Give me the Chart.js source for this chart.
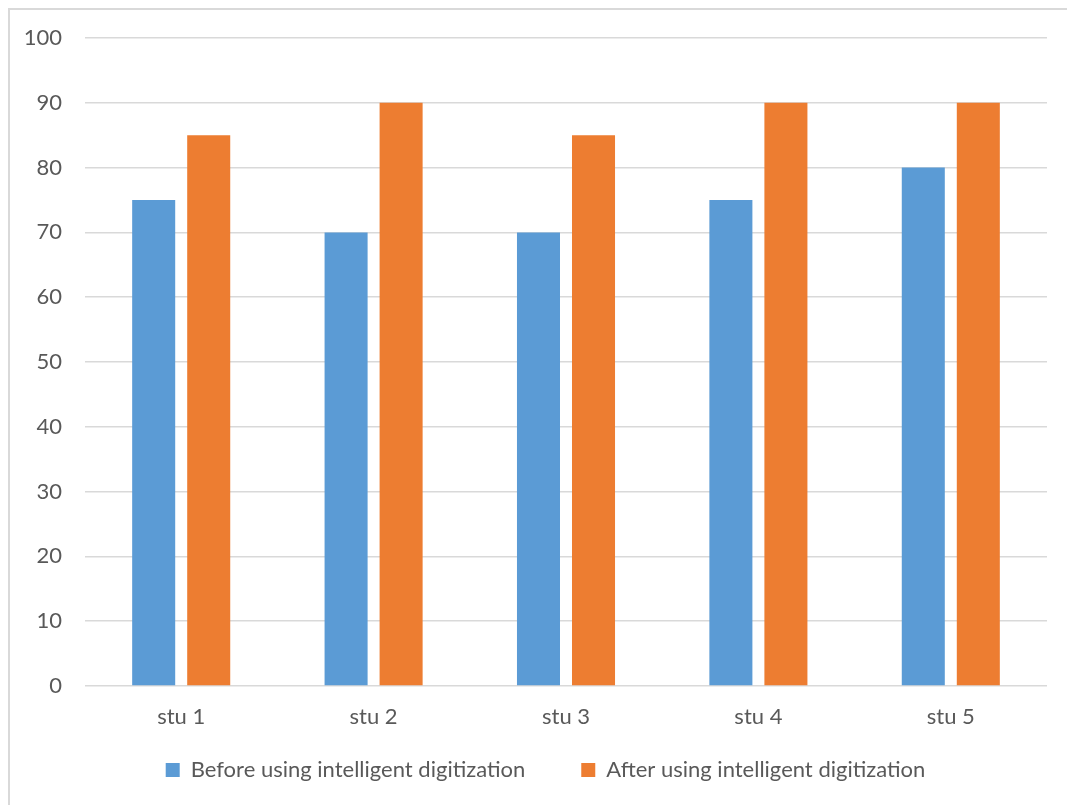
<!DOCTYPE html>
<html>
<head>
<meta charset="utf-8">
<title>Scores before and after intelligent digitization</title>
<script src="https://cdn.jsdelivr.net/npm/chart.js@4/dist/chart.umd.min.js"></script>
<style>
  html, body { margin: 0; padding: 0; background: #ffffff; overflow: hidden; }
  canvas { display: block; }
</style>
</head>
<body>
<canvas id="chart" width="1067" height="805"></canvas>
<script>
// Student categories and their scores
const categories = ['stu 1', 'stu 2', 'stu 3', 'stu 4', 'stu 5'];
const beforeScores = [75, 70, 70, 75, 80];
const afterScores = [85, 90, 85, 90, 90];
const seriesNames = ['Before using intelligent digitization', 'After using intelligent digitization'];
const yTicks = [0, 10, 20, 30, 40, 50, 60, 70, 80, 90, 100];

const FONT_FAMILY = 'Lato, "Open Sans", "Liberation Sans", sans-serif';
const FONT_SIZE = 22;
const TEXT_COLOR = '#595959';
const GRID_COLOR = '#d9d9d9';

// Layout: plot area spans x 85..1047, y 38..686; legend row centred near y 770
const CANVAS_H = 805;
const PLOT_BOTTOM = 686;
const X_AXIS_HEIGHT = 45;
const LEGEND_PAD = 56;
const LEGEND_BOX_H = 60;
const LEGEND_CENTER_Y = 770;
const LEGEND_SHIFT_X = 22;
const padBottom = CANVAS_H - PLOT_BOTTOM - X_AXIS_HEIGHT - LEGEND_BOX_H;

// Thin frame along the top and left edges of the chart
const framePlugin = {
  id: 'frame',
  beforeDraw(chart) {
    const ctx = chart.ctx;
    ctx.save();
    ctx.strokeStyle = GRID_COLOR;
    ctx.lineWidth = 2;
    ctx.beginPath();
    ctx.moveTo(9, chart.height);
    ctx.lineTo(9, 9);
    ctx.lineTo(chart.width, 9);
    ctx.stroke();
    ctx.restore();
  }
};

// Place the legend row: a little right of centre, text centred on LEGEND_CENTER_Y
const legendOffsetPlugin = {
  id: 'legendOffset',
  afterLayout(chart) {
    const lg = chart.legend;
    if (!lg) return;
    lg.left += LEGEND_SHIFT_X;
    lg.right += LEGEND_SHIFT_X;
    lg.top = LEGEND_CENTER_Y - LEGEND_PAD - FONT_SIZE / 2;
    lg.bottom = CANVAS_H;
    lg.height = lg.bottom - lg.top;
  }
};

new Chart(document.getElementById('chart'), {
  type: 'bar',
  data: {
    labels: categories,
    datasets: [
      {
        label: seriesNames[0],
        data: beforeScores,
        backgroundColor: '#5b9bd5',
        borderWidth: 0
      },
      {
        label: seriesNames[1],
        data: afterScores,
        backgroundColor: '#ed7d31',
        borderWidth: 0
      }
    ]
  },
  options: {
    responsive: false,
    animation: false,
    devicePixelRatio: 1,
    categoryPercentage: 0.572,
    barPercentage: 0.782,
    layout: {
      padding: { left: 0, right: 20, top: 38, bottom: padBottom }
    },
    plugins: {
      tooltip: { enabled: false },
      legend: {
        position: 'bottom',
        maxHeight: LEGEND_BOX_H,
        labels: {
          boxWidth: 14,
          boxHeight: 14,
          padding: LEGEND_PAD,
          color: TEXT_COLOR,
          font: { family: FONT_FAMILY, size: FONT_SIZE }
        }
      }
    },
    scales: {
      x: {
        grid: { display: false, drawTicks: false },
        border: { display: false },
        ticks: {
          color: TEXT_COLOR,
          padding: 18,
          font: { family: FONT_FAMILY, size: FONT_SIZE }
        },
        afterFit(scale) { scale.height = X_AXIS_HEIGHT; }
      },
      y: {
        min: 0,
        max: 100,
        afterBuildTicks(scale) {
          scale.ticks = yTicks.map(v => ({ value: v }));
        },
        grid: { color: GRID_COLOR, lineWidth: 1.5, drawTicks: false },
        border: { display: false },
        ticks: {
          color: TEXT_COLOR,
          padding: 23,
          font: { family: FONT_FAMILY, size: FONT_SIZE }
        },
        afterFit(scale) { scale.width = 85; }
      }
    }
  },
  plugins: [framePlugin, legendOffsetPlugin]
});
</script>
</body>
</html>
